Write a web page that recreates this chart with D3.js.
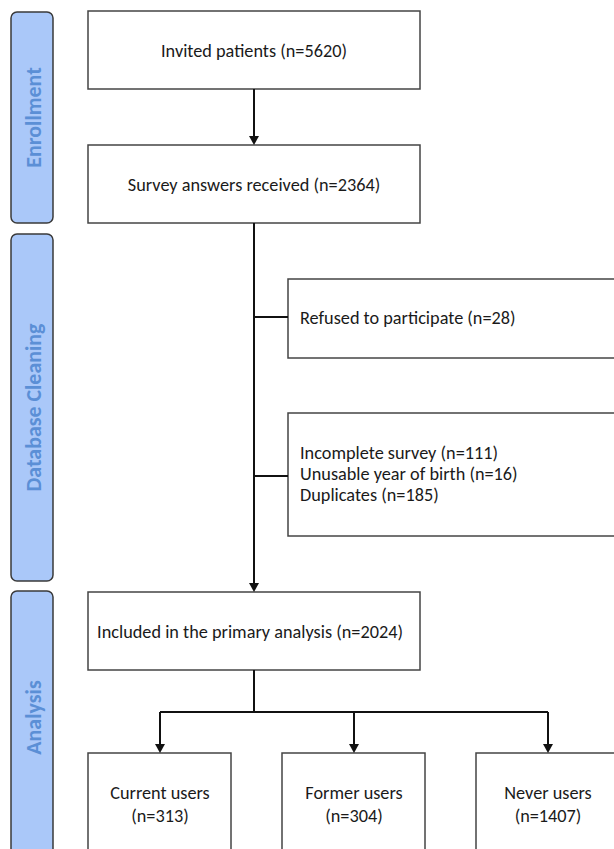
<!DOCTYPE html>
<html>
<head>
<meta charset="utf-8">
<script src="https://cdn.jsdelivr.net/npm/d3@7"></script>
<style>
  html, body { margin: 0; padding: 0; background: #fff; }
  svg { display: block; }
</style>
</head>
<body>
<svg id="chart" width="614" height="849"></svg>
<script>
// ---- data ----
const phases = ["Enrollment", "Database Cleaning", "Analysis"];
const mainSteps = ["Invited patients", "Survey answers received", "Included in the primary analysis"];
const mainCounts = [5620, 2364, 2024];
const exclusionGroups = [
  ["Refused to participate"],
  ["Incomplete survey", "Unusable year of birth", "Duplicates"]
];
const exclusionCounts = [[28], [111, 16, 185]];
const userGroups = ["Current users", "Former users", "Never users"];
const userCounts = [313, 304, 1407];

// ---- layout ----
const svg = d3.select("#chart");
const FONT = "Carlito, Lato, 'Open Sans', sans-serif";
const boxStroke = "#444";
const lineColor = "#111";

// fit font size to reference widths
function fitSize(str, target, weight) {
  const t = svg.append("text").attr("font-family", FONT).attr("font-size", 20)
    .attr("font-weight", weight || "normal").text(str);
  const w = t.node().getComputedTextLength();
  t.remove();
  return 20 * target / w;
}
const fs = fitSize("Invited patients (n=5620)", 186);
const phaseFs = fitSize("Database Cleaning", 168, "bold");

// phase panels
const phaseY = d3.scaleOrdinal().domain(phases).range([[12, 223], [234, 581], [591, 862]]);
const phaseTextY = d3.scaleOrdinal().domain(phases).range([117.5, 407.5, 717.5]);
const panelX0 = 11, panelX1 = 53;
const pg = svg.append("g").selectAll("g").data(phases).join("g");
pg.append("rect")
  .attr("x", panelX0).attr("y", d => phaseY(d)[0])
  .attr("width", panelX1 - panelX0).attr("height", d => phaseY(d)[1] - phaseY(d)[0])
  .attr("rx", 6).attr("ry", 6)
  .attr("fill", "#aac8f9").attr("stroke", "#3a3a3a").attr("stroke-width", 1.5);
pg.append("text")
  .attr("transform", d => `translate(${(panelX0 + panelX1) / 2 + 1},${phaseTextY(d)}) rotate(-90)`)
  .attr("text-anchor", "middle").attr("dominant-baseline", "central")
  .attr("font-family", FONT).attr("font-weight", "bold").attr("font-size", phaseFs)
  .attr("fill", "#5b8fd6").text(d => d);

// main boxes
const boxX0 = 88, boxX1 = 420, spineX = 254;
const mainY = d3.scaleOrdinal().domain(mainSteps).range([[11, 89], [145, 223], [592, 670]]);
const mg = svg.append("g").selectAll("g").data(mainSteps).join("g");
mg.append("rect")
  .attr("x", boxX0).attr("y", d => mainY(d)[0])
  .attr("width", boxX1 - boxX0).attr("height", d => mainY(d)[1] - mainY(d)[0])
  .attr("fill", "#fff").attr("stroke", boxStroke).attr("stroke-width", 1.5);
mg.append("text")
  .attr("x", (d, i) => i === 2 ? 250 : spineX)
  .attr("y", d => (mainY(d)[0] + mainY(d)[1]) / 2 + 1)
  .attr("text-anchor", "middle").attr("dominant-baseline", "central")
  .attr("font-family", FONT).attr("font-size", fs).attr("fill", "#1a1a1a")
  .text((d, i) => `${d} (n=${mainCounts[i]})`);

// exclusion boxes
const exX0 = 288, exX1 = 640;
const exY = [[279, 358], [413, 536]];
const exBranchY = [317, 476];
const eg = svg.append("g").selectAll("g").data(exclusionGroups).join("g");
eg.append("rect")
  .attr("x", exX0).attr("y", (d, i) => exY[i][0])
  .attr("width", exX1 - exX0).attr("height", (d, i) => exY[i][1] - exY[i][0])
  .attr("fill", "#fff").attr("stroke", boxStroke).attr("stroke-width", 1.5);
eg.each(function (lines, gi) {
  const n = lines.length, lh = 21;
  const cy = (exY[gi][0] + exY[gi][1]) / 2 - 1;
  d3.select(this).selectAll("text").data(lines).join("text")
    .attr("x", 300)
    .attr("y", (d, i) => cy + (i - (n - 1) / 2) * lh)
    .attr("dominant-baseline", "central")
    .attr("font-family", FONT).attr("font-size", fs).attr("fill", "#1a1a1a")
    .text((d, i) => `${d} (n=${exclusionCounts[gi][i]})`);
});

// user group boxes
const groupX = d3.scalePoint().domain(userGroups).range([160, 548]);
const gW = 143, gTop = 753, gBot = 870, branchY = 712;
const ug = svg.append("g").selectAll("g").data(userGroups).join("g");
ug.append("rect")
  .attr("x", d => groupX(d) - 72).attr("y", gTop)
  .attr("width", gW).attr("height", gBot - gTop)
  .attr("fill", "#fff").attr("stroke", boxStroke).attr("stroke-width", 1.5);
ug.append("text")
  .attr("x", d => groupX(d)).attr("y", 793)
  .attr("text-anchor", "middle").attr("dominant-baseline", "central")
  .attr("font-family", FONT).attr("font-size", fs).attr("fill", "#1a1a1a")
  .text(d => d);
ug.append("text")
  .attr("x", d => groupX(d)).attr("y", 816)
  .attr("text-anchor", "middle").attr("dominant-baseline", "central")
  .attr("font-family", FONT).attr("font-size", fs).attr("fill", "#1a1a1a")
  .text((d, i) => `(n=${userCounts[i]})`);

// connectors
const conn = svg.append("g").attr("stroke", lineColor).attr("stroke-width", 2).attr("fill", "none");
function arrowHead(x, y) {
  svg.append("path").attr("d", `M${x - 5},${y - 9} L${x + 5},${y - 9} L${x},${y} Z`).attr("fill", lineColor);
}
// invited -> survey
conn.append("line").attr("x1", spineX).attr("y1", mainY(mainSteps[0])[1]).attr("x2", spineX).attr("y2", mainY(mainSteps[1])[0] - 6);
arrowHead(spineX, mainY(mainSteps[1])[0]);
// survey -> included
conn.append("line").attr("x1", spineX).attr("y1", mainY(mainSteps[1])[1]).attr("x2", spineX).attr("y2", mainY(mainSteps[2])[0] - 6);
arrowHead(spineX, mainY(mainSteps[2])[0]);
// branches to exclusions
exBranchY.forEach(y => conn.append("line").attr("x1", spineX).attr("y1", y).attr("x2", exX0).attr("y2", y));
// included -> groups
conn.append("line").attr("x1", spineX).attr("y1", mainY(mainSteps[2])[1]).attr("x2", spineX).attr("y2", branchY);
conn.append("line").attr("x1", groupX(userGroups[0])).attr("y1", branchY).attr("x2", groupX(userGroups[2])).attr("y2", branchY);
userGroups.forEach(g => {
  conn.append("line").attr("x1", groupX(g)).attr("y1", branchY).attr("x2", groupX(g)).attr("y2", gTop - 6);
  arrowHead(groupX(g), gTop);
});
</script>
</body>
</html>
